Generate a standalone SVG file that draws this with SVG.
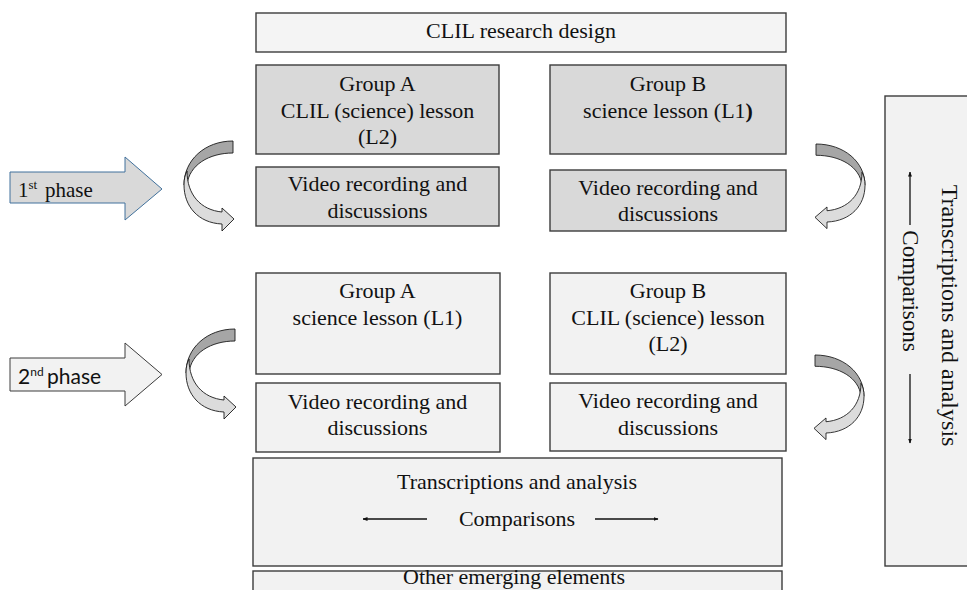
<svg xmlns="http://www.w3.org/2000/svg" width="967" height="590" viewBox="0 0 967 590">
<style>
.box{stroke:#3c3c3c;stroke-width:1.4}
.dk{fill:#d9d9d9}
.lt{fill:#f2f2f2}
.t{font-family:"Liberation Serif","Times New Roman",serif;font-size:22px;fill:#111;text-anchor:middle}
.cd{fill:#a6a6a6;stroke:#1a1a1a;stroke-width:0.9;stroke-linejoin:round}
.cl{fill:#dcdcdc;stroke:#1a1a1a;stroke-width:0.9;stroke-linejoin:round}
.ar{stroke:#111;stroke-width:1.3;fill:none;marker-end:url(#ah)}
</style>
<defs>
<marker id="ah" viewBox="0 0 10 10" refX="9" refY="5" markerWidth="5" markerHeight="5" orient="auto" markerUnits="userSpaceOnUse">
<path d="M0,1 L10,5 L0,9 Z" fill="#111"/>
</marker>
<g id="curl">
<path class="cd" d="M0,0 C-28,0 -49,19 -49,44 L-46,44 C-44,24 -24,12 0,12 Z"/>
<path class="cl" d="M-46,30 C-46,54 -32,69 -11,71 L-11,67 L1,78 L-11,90 L-11,83 C-35,82 -49,65 -49,44 C-49,38 -48,34 -46,30 Z"/>
</g>
</defs>
<rect width="967" height="590" fill="#ffffff"/>

<g id="title">
<rect class="box" x="256" y="13" width="530" height="39" fill="#f4f4f4"/>
<text class="t" x="521" y="38">CLIL research design</text>
</g>

<g id="groupA1">
<rect class="box dk" x="256" y="65" width="243" height="89"/>
<text class="t" x="377.5" y="91">Group A</text>
<text class="t" x="377.5" y="118">CLIL (science) lesson</text>
<text class="t" x="377.5" y="144">(L2)</text>
</g>
<g id="groupB1">
<rect class="box dk" x="550" y="65" width="236" height="89"/>
<text class="t" x="668" y="91">Group B</text>
<text class="t" x="668" y="118">science lesson (L1<tspan font-weight="bold">)</tspan></text>
</g>
<g id="videoA1">
<rect class="box dk" x="256" y="167" width="243" height="59"/>
<text class="t" x="377.5" y="191">Video recording and</text>
<text class="t" x="377.5" y="218">discussions</text>
</g>
<g id="videoB1">
<rect class="box dk" x="550" y="170" width="236" height="61"/>
<text class="t" x="668" y="195">Video recording and</text>
<text class="t" x="668" y="221">discussions</text>
</g>

<g id="groupA2">
<rect class="box lt" x="256" y="273" width="244" height="101"/>
<text class="t" x="377.5" y="298">Group A</text>
<text class="t" x="377.5" y="325">science lesson (L1)</text>
</g>
<g id="groupB2">
<rect class="box lt" x="550" y="273" width="236" height="101"/>
<text class="t" x="668" y="298">Group B</text>
<text class="t" x="668" y="325">CLIL (science) lesson</text>
<text class="t" x="668" y="351">(L2)</text>
</g>
<g id="videoA2">
<rect class="box lt" x="256" y="383" width="244" height="69"/>
<text class="t" x="377.5" y="409">Video recording and</text>
<text class="t" x="377.5" y="435">discussions</text>
</g>
<g id="videoB2">
<rect class="box lt" x="550" y="383" width="236" height="68"/>
<text class="t" x="668" y="408">Video recording and</text>
<text class="t" x="668" y="435">discussions</text>
</g>

<g id="analysis">
<rect class="box lt" x="253" y="458" width="529" height="108"/>
<text class="t" x="517" y="489">Transcriptions and analysis</text>
<text class="t" x="517" y="526">Comparisons</text>
<line class="ar" x1="427" y1="519" x2="363" y2="519"/>
<line class="ar" x1="595" y1="519" x2="658" y2="519"/>
</g>

<g id="other">
<rect class="box lt" x="253" y="571" width="529" height="30"/>
<text class="t" x="514" y="584">Other emerging elements</text>
</g>

<g id="sideAnalysis">
<rect class="box lt" x="885" y="96" width="90" height="470"/>
<text class="t" style="font-size:24px" transform="translate(942,315.5) rotate(90)">Transcriptions and analysis</text>
<text class="t" style="font-size:23px" transform="translate(903,291) rotate(90)">Comparisons</text>
<line class="ar" x1="910" y1="225" x2="910" y2="172"/>
<line class="ar" x1="910" y1="374" x2="910" y2="443"/>
</g>

<g id="phase1">
<polygon points="10,172 125,172 125,157 162,189 125,220 125,203 10,203" fill="#d9d9d9" stroke="#41719c" stroke-width="1"/>
<text x="18" y="197" font-family="Liberation Serif, serif" font-size="21" fill="#111">1<tspan font-size="13" dy="-8">st</tspan><tspan x="45" dy="8">phase</tspan></text>
</g>
<g id="phase2">
<polygon points="10,358 125,358 125,343 162,374.5 125,406 125,391 10,391" fill="#f2f2f2" stroke="#3c3c3c" stroke-width="1"/>
<text x="18" y="384" font-family="Lato, sans-serif" font-size="21" fill="#111">2<tspan font-size="12" dy="-8">nd</tspan><tspan x="47" dy="8">phase</tspan></text>
</g>

<g id="connectors">
<use href="#curl" transform="translate(233,141)"/>
<use href="#curl" transform="translate(235,329)"/>
<use href="#curl" transform="translate(816,144) scale(-1,0.94)"/>
<use href="#curl" transform="translate(815,355) scale(-1,0.94)"/>
</g>
</svg>
